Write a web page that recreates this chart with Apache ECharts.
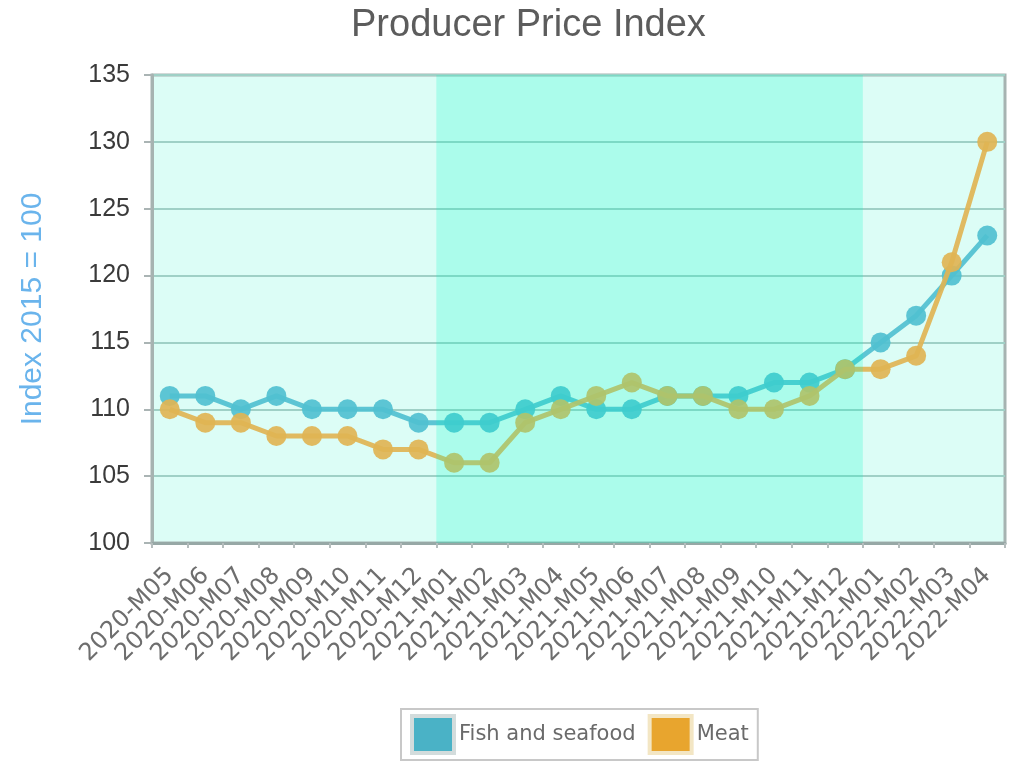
<!DOCTYPE html>
<html>
<head>
<meta charset="utf-8">
<script src="https://cdn.jsdelivr.net/npm/echarts@6/dist/echarts.min.js"></script>
<style>
  html, body { margin: 0; padding: 0; background: #ffffff; }
  #chart { width: 1013px; height: 764px; }
</style>
</head>
<body>
<div id="chart"></div>
<script>
// Monthly producer price index, 2015 = 100
const months = [
  '2020-M05', '2020-M06', '2020-M07', '2020-M08', '2020-M09', '2020-M10',
  '2020-M11', '2020-M12', '2021-M01', '2021-M02', '2021-M03', '2021-M04',
  '2021-M05', '2021-M06', '2021-M07', '2021-M08', '2021-M09', '2021-M10',
  '2021-M11', '2021-M12', '2022-M01', '2022-M02', '2022-M03', '2022-M04'
];
const fishAndSeafood = [111, 111, 110, 111, 110, 110, 110, 109, 109, 109, 110, 111,
                        110, 110, 111, 111, 111, 112, 112, 113, 115, 117, 120, 123];
const meat = [110, 109, 109, 108, 108, 108, 107, 107, 106, 106, 109, 110,
              111, 112, 111, 111, 110, 110, 111, 113, 113, 114, 121, 130];
const yTicks = [100, 105, 110, 115, 120, 125, 130, 135];
const highlightYear = '2021';

// first and last month of the highlighted year, as category indices
const yearMonths = months.filter(m => m.startsWith(highlightYear));
const highlightRange = [[months.indexOf(yearMonths[0]), months.indexOf(yearMonths[yearMonths.length - 1])]];

const chart = echarts.init(document.getElementById('chart'));
chart.setOption({
  backgroundColor: '#ffffff',
  animation: false,
  title: {
    text: 'Producer Price Index',
    left: 346,
    top: 2,
    textStyle: {
      fontFamily: '"Liberation Sans", sans-serif',
      fontWeight: 'normal',
      fontSize: 38,
      color: '#5c5c5c'
    }
  },
  grid: {
    left: 152, right: 8, top: 75, bottom: 221,
    show: true,
    borderColor: '#a6b3b1',
    borderWidth: 3,
    backgroundColor: '#dcfdf6'
  },
  legend: {
    bottom: 4,
    left: 401,
    data: [
      { name: 'Fish and seafood', itemStyle: { color: '#4ab2c6', borderColor: '#d3dcdc', borderWidth: 4 } },
      { name: 'Meat', itemStyle: { color: '#e8a52e', borderColor: '#f3e6c4', borderWidth: 4 } }
    ],
    icon: 'rect',
    itemWidth: 42,
    itemHeight: 37,
    itemGap: 12,
    padding: [5, 9, 5, 9],
    borderColor: '#c8c8c8',
    borderWidth: 2,
    backgroundColor: '#ffffff',
    textStyle: {
      fontFamily: '"DejaVu Sans", sans-serif',
      fontSize: 21,
      color: '#6a6a6a'
    }
  },
  xAxis: {
    type: 'category',
    data: months,
    boundaryGap: true,
    axisLine: { show: true, lineStyle: { color: '#97a8a6', width: 3 } },
    axisTick: { show: true, alignWithLabel: false, interval: 0, length: 5, lineStyle: { color: '#b5bdbd', width: 2 } },
    axisLabel: {
      interval: 0,
      rotate: 45,
      margin: 29,
      fontFamily: '"DejaVu Sans", sans-serif',
      fontSize: 24,
      color: '#6e6e6e'
    },
    splitLine: { show: false }
  },
  yAxis: {
    type: 'value',
    min: yTicks[0],
    max: yTicks[yTicks.length - 1],
    interval: 5,
    name: 'Index 2015 = 100',
    nameLocation: 'middle',
    nameRotate: 90,
    nameGap: 104,
    nameTextStyle: {
      fontFamily: '"Liberation Sans", sans-serif',
      fontSize: 30,
      color: '#6ab4ec'
    },
    axisLine: { show: true, lineStyle: { color: '#a6b3b1', width: 3 } },
    axisTick: { show: true, length: 8, lineStyle: { color: '#aab4b4', width: 2 } },
    axisLabel: {
      margin: 22,
      fontFamily: '"Liberation Sans", sans-serif',
      fontSize: 25,
      color: '#3a3a3a'
    },
    splitLine: { show: true, lineStyle: { color: '#9fd0c6', width: 2 } }
  },
  series: [
    {
      name: 'Fish and seafood',
      type: 'line',
      data: fishAndSeafood,
      symbol: 'circle',
      symbolSize: 20,
      z: 3,
      itemStyle: { color: 'rgba(80, 192, 208, 0.92)' },
      lineStyle: { color: 'rgba(80, 192, 208, 0.92)', width: 5 }
    },
    {
      name: 'Meat',
      type: 'line',
      data: meat,
      symbol: 'circle',
      symbolSize: 20,
      z: 4,
      itemStyle: { color: 'rgba(224, 180, 84, 0.92)' },
      lineStyle: { color: 'rgba(224, 180, 84, 0.92)', width: 5 }
    },
    {
      // translucent tint laid over the highlighted year, covering whole month bands
      name: 'highlight',
      type: 'custom',
      silent: true,
      z: 10,
      data: highlightRange,
      encode: { x: [0, 1] },
      renderItem: function (params, api) {
        const start = api.coord([api.value(0), yTicks[0]]);
        const end = api.coord([api.value(1), yTicks[0]]);
        const band = api.size([1, 0])[0];
        const cs = params.coordSys;
        return {
          type: 'rect',
          shape: {
            x: start[0] - band / 2,
            y: cs.y,
            width: end[0] - start[0] + band,
            height: cs.height
          },
          style: { fill: 'rgba(0, 250, 195, 0.22)' }
        };
      }
    }
  ]
});
</script>
</body>
</html>
